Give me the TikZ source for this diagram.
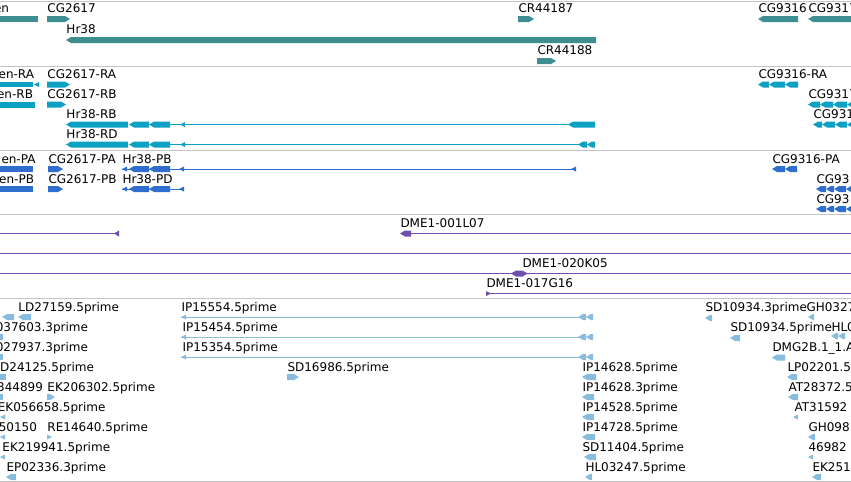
\documentclass[tikz,border=0pt]{standalone}
\usepackage{fontspec}
\setmainfont{DejaVu Sans}

\definecolor{geneteal}{HTML}{3F8E92}
\definecolor{txcyan}{HTML}{0CA0C2}
\definecolor{protblue}{HTML}{2F6ECF}
\definecolor{clonepurple}{HTML}{6E50AC}
\definecolor{estblue}{HTML}{88BCDE}
\definecolor{sepgrey}{HTML}{C4C4C4}

% feature shapes: colour, x from, x to, y centre
\newcommand{\fwdbox}[4]{\fill[#1] (#2,#4-3) -- (#3-5,#4-3) -- (#3,#4) -- (#3-5,#4+3) -- (#2,#4+3) -- cycle;}
\newcommand{\revbox}[4]{\fill[#1] (#2,#4) -- (#2+5,#4-3) -- (#3,#4-3) -- (#3,#4+3) -- (#2+5,#4+3) -- cycle;}
% small tips: colour, x, y centre
\newcommand{\revtip}[3]{\fill[#1] (#2,#3) -- (#2+5,#3-2.5) -- (#2+5,#3+2.5) -- cycle;}
\newcommand{\fwdtip}[3]{\fill[#1] (#2,#3-2.5) -- (#2+5,#3) -- (#2,#3+2.5) -- cycle;}

\begin{document}
\begin{tikzpicture}[x=0.75pt,y=-0.75pt,line width=0.75pt,
    lbl/.style={anchor=base west,inner sep=0pt,font=\fontsize{9}{11}\selectfont},
    lblr/.style={anchor=base east,inner sep=0pt,font=\fontsize{9}{11}\selectfont}]
    \useasboundingbox (0,0) rectangle (851,482);
    \fill [white] (0,0) rectangle (851,482);
    \clip (0,0) rectangle (851,482);
    \foreach \y in {1,66,150,214.5,298.5,481}
        \draw [sepgrey] (0,\y) -- (851,\y);
    % genes
    \node [lblr] (gEn) at (9.5,12.5) {en};
    \fill [geneteal] (0,16) rectangle (38,22);
    \node [lbl] (gCGa) at (47,12.5) {CG2617};
    \fwdbox{geneteal}{47}{70}{19}
    \node [lbl] (gHr) at (66,33.5) {Hr38};
    \revbox{geneteal}{66}{596}{40}
    \node [lbl] (gCRa) at (518,12.5) {CR44187};
    \fwdbox{geneteal}{518}{534}{19}
    \node [lbl] (gCRb) at (537,54.5) {CR44188};
    \fwdbox{geneteal}{537}{556}{61}
    \node [lbl] (gCGb) at (758,12.5) {CG9316};
    \revbox{geneteal}{758}{798}{19}
    \node [lbl] (gCGc) at (808,12.5) {CG9317};
    \revbox{geneteal}{808}{860}{19}
    % transcripts
    \node [lblr] (tEnRA) at (34.5,78.5) {en-RA};
    \fill [txcyan] (0,82) rectangle (33,87);
    \revtip{txcyan}{34}{84.5}
    \node [lbl] (tCGaRA) at (47,78.5) {CG2617-RA};
    \fwdbox{txcyan}{47}{70}{84.5}
    \node [lblr] (tEnRB) at (33.5,98.5) {en-RB};
    \fill [txcyan] (0,101.5) rectangle (35,107.5);
    \node [lbl] (tCGaRB) at (47,98.5) {CG2617-RB};
    \fwdbox{txcyan}{47}{66}{104.5}
    \node [lbl] (tHrRB) at (66,118.5) {Hr38-RB};
    \draw [txcyan] (170,124.5) -- (570,124.5);
    \revbox{txcyan}{66}{128}{124.5}
    \revbox{txcyan}{129}{149}{124.5}
    \revbox{txcyan}{149}{170}{124.5}
    \revtip{txcyan}{180}{124.5}
    \revbox{txcyan}{568}{595}{124.5}
    \node [lbl] (tHrRD) at (66,138.5) {Hr38-RD};
    \draw [txcyan] (170,144.5) -- (580,144.5);
    \revbox{txcyan}{66}{128}{144.5}
    \revbox{txcyan}{129}{149}{144.5}
    \revbox{txcyan}{149}{170}{144.5}
    \revtip{txcyan}{180}{144.5}
    \revbox{txcyan}{578}{587}{144.5}
    \revbox{txcyan}{587}{595}{144.5}
    \node [lbl] (tCGbRA) at (758,78.5) {CG9316-RA};
    \revbox{txcyan}{758}{769}{84.5}
    \revbox{txcyan}{769}{785}{84.5}
    \revbox{txcyan}{785}{798}{84.5}
    \node [lbl] (tCGcRA) at (808,98.5) {CG9317};
    \revbox{txcyan}{808}{820}{104.5}
    \revbox{txcyan}{820}{833}{104.5}
    \revbox{txcyan}{833}{847}{104.5}
    \revbox{txcyan}{847}{860}{104.5}
    \node [lbl] (tCGcRB) at (813,118.5) {CG9317};
    \revbox{txcyan}{813}{822}{124.5}
    \revbox{txcyan}{822}{835}{124.5}
    \revbox{txcyan}{835}{847}{124.5}
    \revbox{txcyan}{847}{860}{124.5}
    % proteins
    \node [lblr] (pEnPA) at (36,163) {en-PA};
    \fill [protblue] (0,166) rectangle (33,172);
    \node [lblr] (pEnPB) at (34.5,183) {en-PB};
    \fill [protblue] (0,186) rectangle (33,192);
    \node [lbl] (pCGaPA) at (48,163) {CG2617-PA};
    \fwdbox{protblue}{48}{63}{169}
    \node [lbl] (pCGaPB) at (48,183) {CG2617-PB};
    \fwdbox{protblue}{48}{63}{189}
    \node [lbl] (pHrPB) at (122,163) {Hr38-PB};
    \draw [protblue] (122,169) -- (576,169);
    \revtip{protblue}{122}{169}
    \revbox{protblue}{129}{149}{169}
    \revbox{protblue}{149}{170}{169}
    \revtip{protblue}{179}{169}
    \revtip{protblue}{571}{169}
    \node [lbl] (pHrPD) at (122,183) {Hr38-PD};
    \draw [protblue] (122,189) -- (184,189);
    \revtip{protblue}{122}{189}
    \revbox{protblue}{129}{149}{189}
    \revbox{protblue}{149}{170}{189}
    \revtip{protblue}{179}{189}
    \node [lbl] (pCGbPA) at (772,163) {CG9316-PA};
    \revbox{protblue}{772}{785}{169}
    \revbox{protblue}{785}{797}{169}
    \node [lbl] (pCGcPA) at (816,183) {CG93};
    \revbox{protblue}{816}{826}{189}
    \revbox{protblue}{826}{834}{189}
    \revbox{protblue}{834}{846}{189}
    \revbox{protblue}{846}{858}{189}
    \node [lbl] (pCGcPB) at (816,203) {CG93};
    \revbox{protblue}{816}{826}{209}
    \revbox{protblue}{826}{834}{209}
    \revbox{protblue}{834}{846}{209}
    \revbox{protblue}{846}{858}{209}
    % clones
    \draw [clonepurple] (0,233.5) -- (118,233.5);
    \fill [clonepurple] (114,233.5) -- (119,230.5) -- (119,236.5) -- cycle;
    \node [lbl] (cDa) at (400,227) {DME1-001L07};
    \revbox{clonepurple}{400}{411}{233.5}
    \draw [clonepurple] (411,233.5) -- (851,233.5);
    \draw [clonepurple] (0,253.5) -- (851,253.5);
    \node [lbl] (cDb) at (522,267) {DME1-020K05};
    \draw [clonepurple] (0,273.5) -- (851,273.5);
    \revbox{clonepurple}{511}{523}{273.5}
    \fwdtip{clonepurple}{523}{273.5}
    \node [lbl] (cDc) at (486,287) {DME1-017G16};
    \fwdtip{clonepurple}{486}{293.5}
    \draw [clonepurple] (486,293.5) -- (851,293.5);
    % ESTs, row 1
    \revbox{estblue}{2}{14}{317}
    \node [lbl] (eLDa) at (18,311) {LD27159.5prime};
    \revbox{estblue}{18}{31}{317}
    \node [lbl] (eIPa) at (181,311) {IP15554.5prime};
    \draw [estblue] (181,317) -- (580,317);
    \revtip{estblue}{181}{317}
    \revbox{estblue}{578}{586}{317}
    \revbox{estblue}{586}{593}{317}
    \node [lbl] (eSDa) at (705,311) {SD10934.3prime};
    \revbox{estblue}{705}{712}{318}
    \node [lbl] (eGHa) at (806,311) {GH0327};
    \revbox{estblue}{808}{814}{317}
    % row 2
    \fill [estblue] (0,334) rectangle (3,340);
    \node [lblr] (eXa) at (88.5,331) {037603.3prime};
    \node [lbl] (eIPb) at (182,331) {IP15454.5prime};
    \draw [estblue] (181,337) -- (580,337);
    \revtip{estblue}{181}{337}
    \revbox{estblue}{578}{586}{337}
    \revbox{estblue}{586}{593}{337}
    \node [lbl] (eSDb) at (730,331) {SD10934.5prime};
    \revbox{estblue}{730}{740}{338}
    \node [lbl] (eHLa) at (831,331) {HL0};
    \revbox{estblue}{831}{838}{336}
    \revbox{estblue}{838}{845}{336}
    % row 3
    \fill [estblue] (0,354) rectangle (3,360);
    \node [lblr] (eXb) at (88.5,351) {027937.3prime};
    \node [lbl] (eIPc) at (182,351) {IP15354.5prime};
    \draw [estblue] (181,357) -- (580,357);
    \revtip{estblue}{181}{357}
    \revbox{estblue}{578}{586}{357}
    \revbox{estblue}{586}{593}{357}
    \node [lbl] (eDMG) at (772,351) {DMG2B.1\_1.A};
    \revbox{estblue}{772}{785}{357.5}
    % row 4
    \fill [estblue] (0,374) rectangle (6,380);
    \node [lblr] (eLDb) at (94.5,371) {D24125.5prime};
    \node [lbl] (eSDc) at (287,371) {SD16986.5prime};
    \fwdbox{estblue}{287}{299}{377}
    \node [lbl] (eIPd) at (582,371) {IP14628.5prime};
    \revbox{estblue}{582}{596}{377}
    \node [lbl] (eLP) at (787,371) {LP02201.5};
    \revbox{estblue}{787}{797}{377}
    % row 5
    \fill [estblue] (0,394) rectangle (3,400);
    \node [lblr] (eXc) at (43.5,391) {344899};
    \node [lbl] (eEKa) at (47,391) {EK206302.5prime};
    \fwdbox{estblue}{47}{55}{397}
    \node [lbl] (eIPe) at (582,391) {IP14628.3prime};
    \revbox{estblue}{582}{594}{397}
    \node [lbl] (eATa) at (788,391) {AT28372.5};
    \revbox{estblue}{788}{798}{397}
    % row 6
    \revtip{estblue}{0}{417}
    \node [lblr] (eEKb) at (106,411) {EK056658.5prime};
    \node [lbl] (eIPf) at (582,411) {IP14528.5prime};
    \revbox{estblue}{582}{594}{417}
    \node [lbl] (eATb) at (794,411) {AT31592};
    \revtip{estblue}{793}{417}
    % row 7
    \revtip{estblue}{0}{437}
    \node [lblr] (eXd) at (37.5,431) {50150};
    \node [lbl] (eRE) at (47,431) {RE14640.5prime};
    \fwdtip{estblue}{47}{437}
    \node [lbl] (eIPg) at (582,431) {IP14728.5prime};
    \revbox{estblue}{582}{595}{437}
    \node [lbl] (eGHb) at (808,431) {GH098};
    \revbox{estblue}{808}{815}{437}
    % row 8
    \revtip{estblue}{0}{457}
    \node [lbl] (eEKc) at (2,451) {EK219941.5prime};
    \node [lbl] (eSDd) at (582,451) {SD11404.5prime};
    \revbox{estblue}{584}{596}{457}
    \node [lbl] (eNum) at (808,451) {46982};
    \revtip{estblue}{808}{457}
    % row 9
    \node [lbl] (eEP) at (6,471) {EP02336.3prime};
    \revbox{estblue}{6}{16}{477}
    \node [lbl] (eHLb) at (585,471) {HL03247.5prime};
    \revbox{estblue}{585}{592}{477}
    \node [lbl] (eEKd) at (812,471) {EK251};
    \revbox{estblue}{812}{821}{477}
\end{tikzpicture}
\end{document}
